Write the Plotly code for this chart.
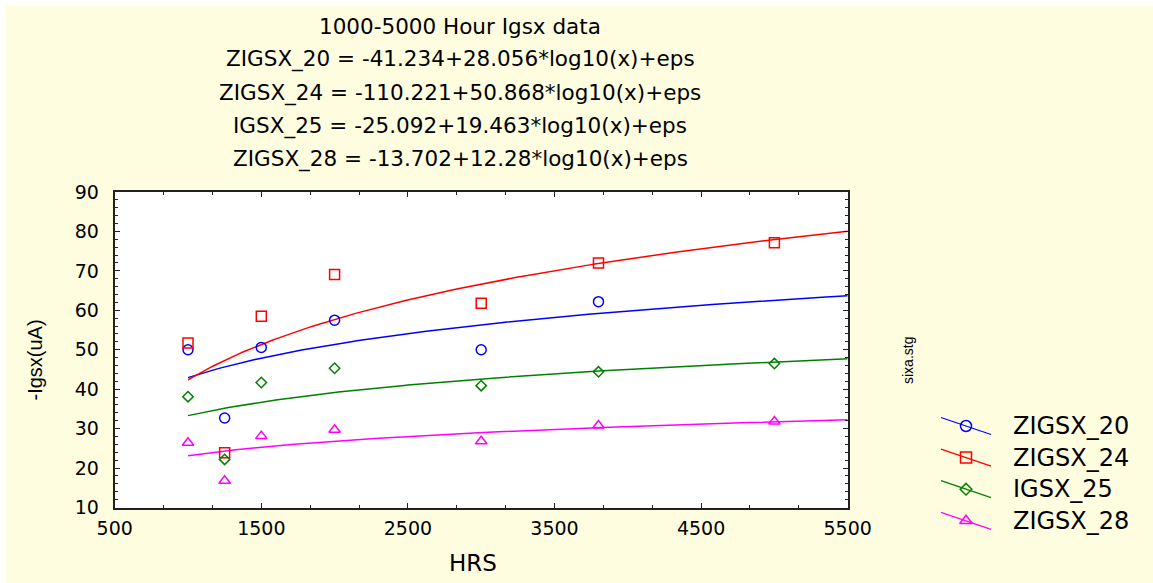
import numpy as np
import plotly.graph_objects as go

# ---------------- data ----------------
hrs = [1000, 1250, 1500, 2000, 3000, 3800, 5000]
hrs_20 = [1000, 1250, 1500, 2000, 3000, 3800]
zigsx_20 = [50.0, 32.7, 50.6, 57.5, 50.0, 62.2]
zigsx_24 = [51.7, 23.9, 58.5, 69.1, 61.8, 72.0, 77.1]
igsx_25 = [38.1, 22.2, 41.7, 45.3, 40.9, 44.4, 46.5]
zigsx_28 = [26.4, 16.8, 28.1, 29.7, 26.8, 30.8, 31.8]

names = ["ZIGSX_20", "ZIGSX_24", "IGSX_25", "ZIGSX_28"]
intercepts = [-41.234, -110.221, -25.092, -13.702]
slopes = [28.056, 50.868, 19.463, 12.28]
slope_txt = ["28.056", "50.868", "19.463", "12.28"]
fit_start, fit_end = 1000, 5500

title_lines = ["1000-5000 Hour Igsx data"] + [
    f"{n} = {a}+{s}*log10(x)+eps" for n, a, s in zip(names, intercepts, slope_txt)
]
x_ticks = [500, 1500, 2500, 3500, 4500, 5500]
y_ticks = [10, 20, 30, 40, 50, 60, 70, 80, 90]

# ---------------- style ----------------
colors = ["#0000FF", "#FF0000", "#008000", "#FF00FF"]
symbols = ["circle-open", "square-open", "diamond-open", "triangle-up-open"]
msizes = [10, 10, 8, 10]
W, H = 1153, 583
CREAM = "#FEFDE0"
FONT_H = "DejaVu Sans"
FONT_R = "Liberation Sans, Arial"

# plot area in pixels
PL, PR, PT, PB = 114.7, 847.7, 192, 507.5

fig = go.Figure()

series_x = [hrs_20, hrs, hrs, hrs]
series_y = [zigsx_20, zigsx_24, igsx_25, zigsx_28]

xs = np.linspace(fit_start, fit_end, 181)
for i in range(4):
    fig.add_trace(go.Scatter(
        x=xs, y=intercepts[i] + slopes[i] * np.log10(xs), mode="lines",
        line=dict(color=colors[i], width=1.5), showlegend=False, hoverinfo="skip"))
for i in range(4):
    fig.add_trace(go.Scatter(
        x=series_x[i], y=series_y[i], mode="markers", name=names[i],
        marker=dict(symbol=symbols[i], size=msizes[i], color=colors[i],
                    line=dict(color=colors[i], width=1.5)),
        showlegend=False))

# ---------------- custom legend (pixel overlay axes) ----------------
LEG_X0, LEG_X1, LEG_Y0, LEG_DY, LEG_SLANT, LEG_TX = 941, 991, 426, 31.6, 17, 1011
for i in range(4):
    yc = LEG_Y0 + i * LEG_DY
    fig.add_trace(go.Scatter(
        x=[LEG_X0, LEG_X1], y=[yc - LEG_SLANT / 2, yc + LEG_SLANT / 2],
        mode="lines", line=dict(color=colors[i], width=1.3),
        xaxis="x2", yaxis="y2", showlegend=False, hoverinfo="skip"))
    fig.add_trace(go.Scatter(
        x=[(LEG_X0 + LEG_X1) / 2], y=[yc], mode="markers",
        marker=dict(symbol=symbols[i], size=msizes[i] + 1, color=colors[i],
                    line=dict(color=colors[i], width=1.5)),
        xaxis="x2", yaxis="y2", showlegend=False, hoverinfo="skip"))
    fig.add_annotation(x=LEG_TX / W, y=1 - yc / H, xref="paper", yref="paper",
                       text=names[i], showarrow=False, xanchor="left", yanchor="middle",
                       font=dict(family=FONT_H, size=24, color="black"))

# ---------------- titles ----------------
TITLE_X, TITLE_Y0, TITLE_DY = 460, 26, 33.3
for k, line in enumerate(title_lines):
    fig.add_annotation(x=TITLE_X / W, y=1 - (TITLE_Y0 + k * TITLE_DY) / H,
                       xref="paper", yref="paper", text=line, showarrow=False,
                       xanchor="center", yanchor="middle",
                       font=dict(family=FONT_H, size=21.5, color="black"))

fig.add_annotation(x=473 / W, y=1 - 563 / H, xref="paper", yref="paper", text="HRS",
                   showarrow=False, xanchor="center", yanchor="middle",
                   font=dict(family=FONT_H, size=23, color="black"))
fig.add_annotation(x=34 / W, y=1 - 360.5 / H, xref="paper", yref="paper", text="-Igsx(uA)",
                   showarrow=False, textangle=-90, xanchor="center", yanchor="middle",
                   font=dict(family=FONT_R, size=20, color="black"))
fig.add_annotation(x=908 / W, y=1 - 361 / H, xref="paper", yref="paper", text="sixa.stg",
                   showarrow=False, textangle=-90, xanchor="center", yanchor="middle",
                   font=dict(family=FONT_R, size=14, color="black"))

# ---------------- background shapes ----------------
fig.add_shape(type="rect", xref="paper", yref="paper", x0=0, x1=1, y0=1 - 6 / H, y1=1,
              fillcolor="white", line=dict(width=0), layer="below")
fig.add_shape(type="rect", xref="paper", yref="paper", x0=0, x1=6 / W, y0=0, y1=1,
              fillcolor="white", line=dict(width=0), layer="below")
fig.add_shape(type="rect", xref="x domain", yref="y domain", x0=0, x1=1, y0=0, y1=1,
              fillcolor="white", line=dict(width=0), layer="below")

axis_common = dict(showgrid=False, zeroline=False, showline=True, linecolor="#222222",
                   linewidth=2, mirror="ticks", ticks="inside", tickcolor="#222222",
                   tickwidth=1.2, ticklen=5, automargin=False,
                   tickfont=dict(family=FONT_H, size=19, color="black"))

fig.update_layout(
    width=W, height=H,
    margin=dict(l=0, r=0, t=0, b=0, pad=0, autoexpand=False),
    paper_bgcolor=CREAM, plot_bgcolor="rgba(0,0,0,0)",
    xaxis=dict(domain=[PL / W, PR / W], range=[500, 5500], tickvals=x_ticks,
               minor=dict(ticks="inside", tick0=500, dtick=1000 / 3, ticklen=3,
                          tickcolor="#222222", tickwidth=1.2),
               ticklabelstandoff=3, **axis_common),
    yaxis=dict(domain=[1 - PB / H, 1 - PT / H], range=[10, 90], tickvals=y_ticks,
               minor=dict(ticks="inside", tick0=10, dtick=2, ticklen=3,
                          tickcolor="#222222", tickwidth=1.2),
               ticklabelstandoff=10, **axis_common),
    xaxis2=dict(domain=[0, 1], range=[0, W], visible=False, anchor="y2",
                fixedrange=True, automargin=False),
    yaxis2=dict(domain=[0, 1], range=[H, 0], visible=False, anchor="x2",
                fixedrange=True, automargin=False),
    showlegend=False,
)

fig.write_html("out.html")
